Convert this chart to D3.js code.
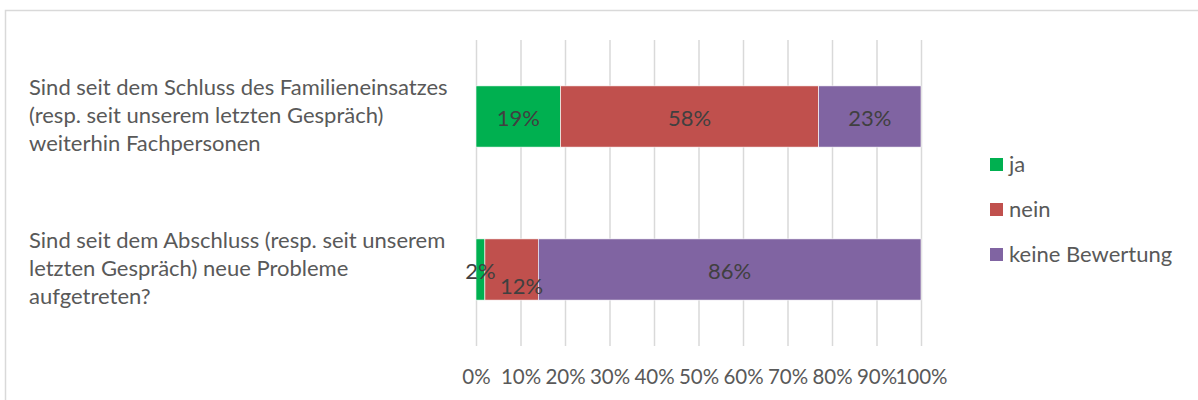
<!DOCTYPE html>
<html>
<head>
<meta charset="utf-8">
<script src="https://cdn.jsdelivr.net/npm/d3@7"></script>
<style>
  html, body { margin: 0; padding: 0; background: #fff; }
  svg { display: block; font-family: "Lato", "Open Sans", sans-serif; }
</style>
</head>
<body>
<svg id="chart" width="1198" height="400"></svg>
<script>
// Questions (each split into its display lines)
const questions = [
  ["Sind seit dem Schluss des Familieneinsatzes", "(resp. seit unserem letzten Gespräch)", "weiterhin Fachpersonen"],
  ["Sind seit dem Abschluss (resp. seit unserem", "letzten Gespräch) neue Probleme", "aufgetreten?"]
];
const seriesNames = ["ja", "nein", "keine Bewertung"];
const jaValues = [19, 2];
const neinValues = [58, 12];
const keineValues = [23, 86];
const tickValues = [0, 10, 20, 30, 40, 50, 60, 70, 80, 90, 100];
const colors = ["#00b050", "#c0504d", "#8064a2"];

const FONT = "22px";
const svg = d3.select("#chart");

// outer chart-area frame
svg.append("rect")
  .attr("x", 5.5).attr("y", 10.5)
  .attr("width", 1200).attr("height", 400)
  .attr("fill", "none").attr("stroke", "#d9d9d9").attr("stroke-width", 1.5);

const x = d3.scaleLinear().domain([0, 100]).range([476, 921]);
const y = d3.scaleBand().domain(d3.range(questions.length)).range([40, 346]).paddingInner(0.6).paddingOuter(0.3);

// vertical gridlines
svg.append("g").selectAll("line").data(tickValues).join("line")
  .attr("x1", d => x(d) + 0.5).attr("x2", d => x(d) + 0.5)
  .attr("y1", 40).attr("y2", 346)
  .attr("stroke", "#d9d9d9").attr("stroke-width", 1.5);

// bottom axis labels
const axis = d3.axisBottom(x).tickValues(tickValues).tickFormat(d => d + "%").tickSize(0).tickPadding(0);
const gAxis = svg.append("g").attr("transform", "translate(0,377)").call(axis);
gAxis.select(".domain").remove();
gAxis.selectAll("text")
  .attr("dy", "0.35em")
  .attr("fill", "#595959")
  .style("font-size", "20.5px")
  .style("font-family", "Lato, sans-serif");

// stacked series
const rows = questions.map((q, i) => ({ i, ja: jaValues[i], nein: neinValues[i], keine: keineValues[i] }));
const stack = d3.stack().keys(["ja", "nein", "keine"]);
const layers = stack(rows);

const gBars = svg.append("g");
layers.forEach((layer, k) => {
  gBars.append("g").attr("fill", colors[k])
    .selectAll("rect").data(layer).join("rect")
    .attr("x", d => x(d[0]))
    .attr("y", d => y(d.data.i))
    .attr("width", d => x(d[1]) - x(d[0]))
    .attr("height", y.bandwidth())
    .attr("stroke", "#ffffff").attr("stroke-width", 0.6);
});

// data labels; a narrow middle segment gets its label pushed down-right so it
// does not collide with the label of the tiny first segment
const gLabels = svg.append("g")
  .attr("fill", "#404040")
  .style("font-size", FONT)
  .attr("text-anchor", "middle");
layers.forEach((layer, k) => {
  layer.forEach(d => {
    const w = x(d[1]) - x(d[0]);
    const shifted = k === 1 && w < 60;
    gLabels.append("text")
      .attr("x", (x(d[0]) + x(d[1])) / 2 + (shifted ? 10 : 0))
      .attr("y", y(d.data.i) + y.bandwidth() / 2 + (shifted ? 17 : 2))
      .attr("dy", "0.35em")
      .text((d[1] - d[0]) + "%");
  });
});

// category labels
const gCats = svg.append("g").attr("fill", "#595959").style("font-size", FONT);
questions.forEach((lines, i) => {
  const cy = y(i) + y.bandwidth() / 2;
  const lh = 28;
  lines.forEach((line, j) => {
    gCats.append("text")
      .attr("x", 29)
      .attr("y", cy + (j - (lines.length - 1) / 2) * lh - 1)
      .attr("dy", "0.35em")
      .text(line);
  });
});

// legend
const gLeg = svg.append("g").attr("transform", "translate(990,164)");
seriesNames.forEach((name, k) => {
  const g = gLeg.append("g").attr("transform", `translate(0,${k * 45})`);
  g.append("rect").attr("x", 0).attr("y", -6).attr("width", 13).attr("height", 13).attr("fill", colors[k]);
  g.append("text").attr("x", 19).attr("y", 0).attr("dy", "0.35em")
    .attr("fill", "#595959").style("font-size", FONT).text(name);
});
</script>
</body>
</html>
